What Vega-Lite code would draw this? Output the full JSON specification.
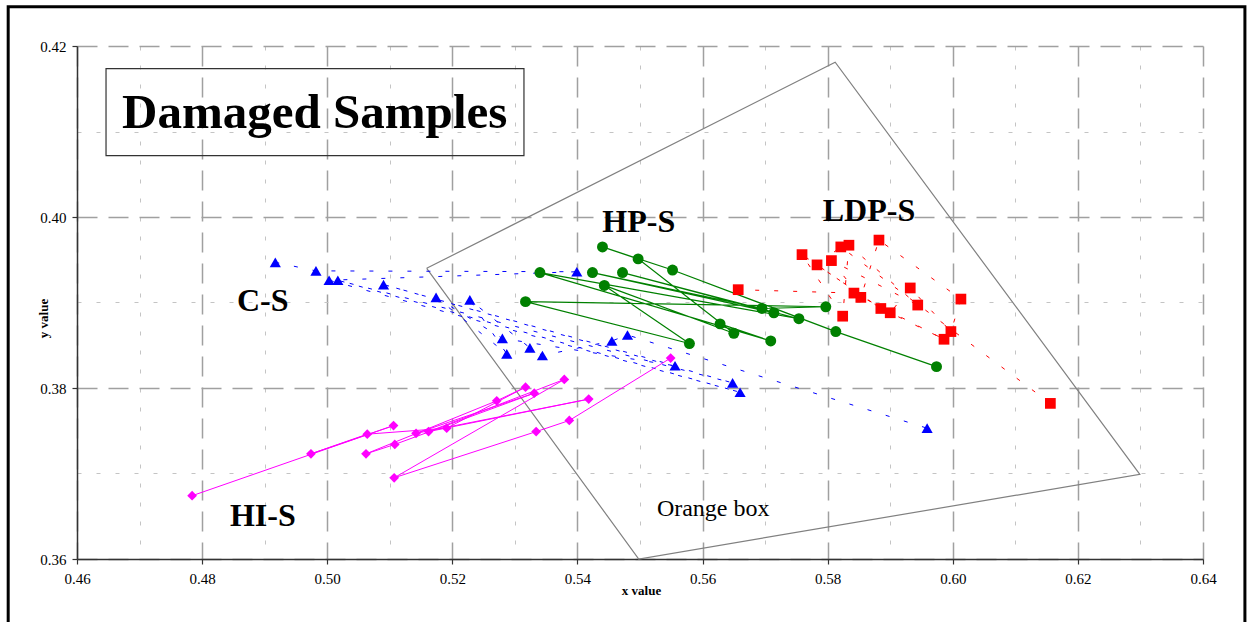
{
  "$schema": "https://vega.github.io/schema/vega-lite/v6.json",
  "width": 1126,
  "height": 513,
  "autosize": {"type": "none"},
  "padding": {"left": 77, "top": 46, "right": 47, "bottom": 63},
  "background": "white",
  "config": {"view": {"stroke": null}, "font": "Liberation Serif"},
  "datasets": {
    "pts": [
      {"s": "C-S", "o": 1, "x": 0.4917, "y": 0.3947},
      {"s": "C-S", "o": 2, "x": 0.4982, "y": 0.3937},
      {"s": "C-S", "o": 3, "x": 0.5399, "y": 0.3936},
      {"s": "C-S", "o": 4, "x": 0.5003, "y": 0.3926},
      {"s": "C-S", "o": 5, "x": 0.5660, "y": 0.3795},
      {"s": "C-S", "o": 6, "x": 0.5017, "y": 0.3926},
      {"s": "C-S", "o": 7, "x": 0.5648, "y": 0.3806},
      {"s": "C-S", "o": 8, "x": 0.5090, "y": 0.3921},
      {"s": "C-S", "o": 9, "x": 0.5556, "y": 0.3826},
      {"s": "C-S", "o": 10, "x": 0.5280, "y": 0.3858},
      {"s": "C-S", "o": 11, "x": 0.5174, "y": 0.3906},
      {"s": "C-S", "o": 12, "x": 0.5287, "y": 0.3840},
      {"s": "C-S", "o": 13, "x": 0.5228, "y": 0.3903},
      {"s": "C-S", "o": 14, "x": 0.5324, "y": 0.3847},
      {"s": "C-S", "o": 15, "x": 0.5344, "y": 0.3838},
      {"s": "C-S", "o": 16, "x": 0.5455, "y": 0.3855},
      {"s": "C-S", "o": 17, "x": 0.5480, "y": 0.3862},
      {"s": "C-S", "o": 18, "x": 0.5959, "y": 0.3753},

      {"s": "HP-S", "o": 1, "x": 0.5974, "y": 0.3825},
      {"s": "HP-S", "o": 2, "x": 0.5813, "y": 0.3866},
      {"s": "HP-S", "o": 3, "x": 0.5552, "y": 0.3938},
      {"s": "HP-S", "o": 4, "x": 0.5440, "y": 0.3965},
      {"s": "HP-S", "o": 5, "x": 0.5497, "y": 0.3951},
      {"s": "HP-S", "o": 6, "x": 0.5650, "y": 0.3864},
      {"s": "HP-S", "o": 7, "x": 0.5443, "y": 0.3920},
      {"s": "HP-S", "o": 8, "x": 0.5579, "y": 0.3852},
      {"s": "HP-S", "o": 9, "x": 0.5317, "y": 0.3901},
      {"s": "HP-S", "o": 10, "x": 0.5797, "y": 0.3895},
      {"s": "HP-S", "o": 11, "x": 0.5695, "y": 0.3893},
      {"s": "HP-S", "o": 12, "x": 0.5424, "y": 0.3935},
      {"s": "HP-S", "o": 13, "x": 0.5714, "y": 0.3888},
      {"s": "HP-S", "o": 14, "x": 0.5472, "y": 0.3935},
      {"s": "HP-S", "o": 15, "x": 0.5754, "y": 0.3881},
      {"s": "HP-S", "o": 16, "x": 0.5340, "y": 0.3935},
      {"s": "HP-S", "o": 17, "x": 0.5709, "y": 0.3855},
      {"s": "HP-S", "o": 18, "x": 0.5628, "y": 0.3875},

      {"s": "LDP-S", "o": 1, "x": 0.6156, "y": 0.3782},
      {"s": "LDP-S", "o": 2, "x": 0.5821, "y": 0.3965},
      {"s": "LDP-S", "o": 3, "x": 0.5783, "y": 0.3944},
      {"s": "LDP-S", "o": 4, "x": 0.5885, "y": 0.3893},
      {"s": "LDP-S", "o": 5, "x": 0.5759, "y": 0.3956},
      {"s": "LDP-S", "o": 6, "x": 0.5824, "y": 0.3884},
      {"s": "LDP-S", "o": 7, "x": 0.5834, "y": 0.3967},
      {"s": "LDP-S", "o": 8, "x": 0.5944, "y": 0.3897},
      {"s": "LDP-S", "o": 9, "x": 0.5806, "y": 0.3949},
      {"s": "LDP-S", "o": 10, "x": 0.5853, "y": 0.3906},
      {"s": "LDP-S", "o": 11, "x": 0.5882, "y": 0.3973},
      {"s": "LDP-S", "o": 12, "x": 0.6013, "y": 0.3904},
      {"s": "LDP-S", "o": 13, "x": 0.5997, "y": 0.3866},
      {"s": "LDP-S", "o": 14, "x": 0.5932, "y": 0.3917},
      {"s": "LDP-S", "o": 15, "x": 0.5900, "y": 0.3888},
      {"s": "LDP-S", "o": 16, "x": 0.5986, "y": 0.3857},
      {"s": "LDP-S", "o": 17, "x": 0.5842, "y": 0.3911},
      {"s": "LDP-S", "o": 18, "x": 0.5657, "y": 0.3915},

      {"s": "HI-S", "o": 1, "x": 0.5549, "y": 0.3835},
      {"s": "HI-S", "o": 2, "x": 0.5387, "y": 0.3762},
      {"s": "HI-S", "o": 3, "x": 0.5334, "y": 0.3749},
      {"s": "HI-S", "o": 4, "x": 0.5107, "y": 0.3695},
      {"s": "HI-S", "o": 5, "x": 0.5379, "y": 0.3810},
      {"s": "HI-S", "o": 6, "x": 0.5162, "y": 0.3749},
      {"s": "HI-S", "o": 7, "x": 0.5418, "y": 0.3787},
      {"s": "HI-S", "o": 8, "x": 0.5142, "y": 0.3747},
      {"s": "HI-S", "o": 9, "x": 0.5331, "y": 0.3794},
      {"s": "HI-S", "o": 10, "x": 0.5108, "y": 0.3734},
      {"s": "HI-S", "o": 11, "x": 0.5062, "y": 0.3723},
      {"s": "HI-S", "o": 12, "x": 0.5271, "y": 0.3785},
      {"s": "HI-S", "o": 13, "x": 0.5317, "y": 0.3801},
      {"s": "HI-S", "o": 14, "x": 0.5191, "y": 0.3753},
      {"s": "HI-S", "o": 15, "x": 0.5064, "y": 0.3746},
      {"s": "HI-S", "o": 16, "x": 0.4974, "y": 0.3723},
      {"s": "HI-S", "o": 17, "x": 0.5106, "y": 0.3756},
      {"s": "HI-S", "o": 18, "x": 0.4784, "y": 0.3674}
    ],
    "box": [
      {"o": 1, "x": 0.5159, "y": 0.3940},
      {"o": 2, "x": 0.5812, "y": 0.4181},
      {"o": 3, "x": 0.6299, "y": 0.3699},
      {"o": 4, "x": 0.5498, "y": 0.3600},
      {"o": 5, "x": 0.5159, "y": 0.3940}
    ],
    "labels": [
      {"t": "C-S", "x": 0.4897, "y": 0.3902},
      {"t": "HP-S", "x": 0.5498, "y": 0.3994},
      {"t": "LDP-S", "x": 0.5866, "y": 0.4007},
      {"t": "HI-S", "x": 0.4897, "y": 0.3650}
    ],
    "note": [
      {"t": "Orange box", "x": 0.5617, "y": 0.3658}
    ],
    "ttl": [
      {"t": "Damaged Samples", "x": 0.4980, "y": 0.4122}
    ]
  },
  "layer": [
    {
      "data": {"name": "box"},
      "mark": {"type": "line", "color": "#808080", "strokeWidth": 1.2},
      "encoding": {
        "x": {
          "field": "x", "type": "quantitative",
          "scale": {"domain": [0.46, 0.64], "nice": false, "zero": false},
          "axis": {
            "title": "x value",
            "values": [0.46, 0.47, 0.48, 0.49, 0.50, 0.51, 0.52, 0.53, 0.54, 0.55, 0.56, 0.57, 0.58, 0.59, 0.60, 0.61, 0.62, 0.63, 0.64],
            "grid": true,
            "gridColor": {"condition": {"test": "round(datum.value*100)%2==1", "value": "#c4c4c4"}, "value": "#a0a0a0"},
            "gridDash": {"condition": {"test": "round(datum.value*100)%2==1", "value": [4, 15]}, "value": [20, 11]},
            "gridWidth": {"condition": {"test": "round(datum.value*100)%2==1", "value": 1}, "value": 1.5},
            "tickOpacity": {"condition": {"test": "round(datum.value*100)%2==1", "value": 0}, "value": 1},
            "labelExpr": "round(datum.value*100)%2==0 ? format(datum.value,'.2f') : ''",
            "tickSize": 5, "tickColor": "#333333", "tickWidth": 1.2,
            "domainColor": "#333333", "domainWidth": 1.5,
            "labelFont": "Liberation Serif", "labelFontSize": 15, "labelColor": "black",
            "labelPadding": 7, "labelOverlap": false, "labelFlush": false,
            "titleFont": "Liberation Serif", "titleFontWeight": "bold", "titleFontSize": 13, "titleColor": "black",
            "titleX": 564, "titleY": 31, "titleBaseline": "middle", "titleAlign": "center"
          }
        },
        "y": {
          "field": "y", "type": "quantitative",
          "scale": {"domain": [0.36, 0.42], "nice": false, "zero": false},
          "axis": {
            "title": "y value",
            "values": [0.36, 0.37, 0.38, 0.39, 0.40, 0.41, 0.42],
            "grid": true,
            "gridColor": {"condition": {"test": "round(datum.value*100)%2==1", "value": "#c4c4c4"}, "value": "#a0a0a0"},
            "gridDash": {"condition": {"test": "round(datum.value*100)%2==1", "value": [4, 15]}, "value": [20, 11]},
            "gridWidth": {"condition": {"test": "round(datum.value*100)%2==1", "value": 1}, "value": 1.5},
            "tickOpacity": {"condition": {"test": "round(datum.value*100)%2==1", "value": 0}, "value": 1},
            "labelExpr": "round(datum.value*100)%2==0 ? format(datum.value,'.2f') : ''",
            "tickSize": 5, "tickColor": "#333333", "tickWidth": 1.2,
            "domainColor": "#333333", "domainWidth": 1.5,
            "labelFont": "Liberation Serif", "labelFontSize": 15, "labelColor": "black",
            "labelPadding": 6, "labelOverlap": false, "labelFlush": false,
            "titleFont": "Liberation Serif", "titleFontWeight": "bold", "titleFontSize": 13, "titleColor": "black",
            "titleAngle": -90, "titleX": -34, "titleY": 272, "titleBaseline": "middle", "titleAlign": "center"
          }
        },
        "order": {"field": "o", "type": "quantitative"}
      }
    },
    {
      "data": {"values": [{}]},
      "mark": {"type": "rect", "filled": false, "stroke": "black", "strokeWidth": 3, "clip": false},
      "encoding": {
        "x": {"datum": 0.4490, "type": "quantitative", "scale": {"domain": [0.46, 0.64], "nice": false, "zero": false}},
        "x2": {"datum": 0.6467},
        "y": {"datum": 0.4246, "type": "quantitative", "scale": {"domain": [0.36, 0.42], "nice": false, "zero": false}},
        "y2": {"datum": 0.3500}
      }
    },
    {
      "data": {"values": [{}]},
      "mark": {"type": "rect", "filled": false, "stroke": "#333333", "strokeWidth": 1.2},
      "encoding": {
        "x": {"datum": 0.46464, "type": "quantitative", "scale": {"domain": [0.46, 0.64], "nice": false, "zero": false}},
        "x2": {"datum": 0.53145},
        "y": {"datum": 0.41736, "type": "quantitative", "scale": {"domain": [0.36, 0.42], "nice": false, "zero": false}},
        "y2": {"datum": 0.40717}
      }
    },
    {
      "data": {"name": "ttl"},
      "mark": {"type": "text", "font": "Liberation Serif", "fontWeight": "bold", "fontSize": 49, "color": "black", "align": "center", "baseline": "middle"},
      "encoding": {
        "x": {"field": "x", "type": "quantitative", "scale": {"domain": [0.46, 0.64], "nice": false, "zero": false}},
        "y": {"field": "y", "type": "quantitative", "scale": {"domain": [0.36, 0.42], "nice": false, "zero": false}},
        "text": {"field": "t"}
      }
    },
    {
      "data": {"name": "pts"},
      "transform": [{"filter": "datum.s == 'C-S'"}],
      "mark": {"type": "line", "color": "#0000FF", "strokeWidth": 1, "strokeDash": [4, 15]},
      "encoding": {
        "x": {"field": "x", "type": "quantitative", "scale": {"domain": [0.46, 0.64], "nice": false, "zero": false}},
        "y": {"field": "y", "type": "quantitative", "scale": {"domain": [0.36, 0.42], "nice": false, "zero": false}},
        "order": {"field": "o", "type": "quantitative"}
      }
    },
    {
      "data": {"name": "pts"},
      "transform": [{"filter": "datum.s == 'LDP-S'"}],
      "mark": {"type": "line", "color": "#FF0000", "strokeWidth": 1, "strokeDash": [4, 15]},
      "encoding": {
        "x": {"field": "x", "type": "quantitative", "scale": {"domain": [0.46, 0.64], "nice": false, "zero": false}},
        "y": {"field": "y", "type": "quantitative", "scale": {"domain": [0.36, 0.42], "nice": false, "zero": false}},
        "order": {"field": "o", "type": "quantitative"}
      }
    },
    {
      "data": {"name": "pts"},
      "transform": [{"filter": "datum.s == 'HP-S'"}],
      "mark": {"type": "line", "color": "#008000", "strokeWidth": 1.2},
      "encoding": {
        "x": {"field": "x", "type": "quantitative", "scale": {"domain": [0.46, 0.64], "nice": false, "zero": false}},
        "y": {"field": "y", "type": "quantitative", "scale": {"domain": [0.36, 0.42], "nice": false, "zero": false}},
        "order": {"field": "o", "type": "quantitative"}
      }
    },
    {
      "data": {"name": "pts"},
      "transform": [{"filter": "datum.s == 'HI-S'"}],
      "mark": {"type": "line", "color": "#FF00FF", "strokeWidth": 1},
      "encoding": {
        "x": {"field": "x", "type": "quantitative", "scale": {"domain": [0.46, 0.64], "nice": false, "zero": false}},
        "y": {"field": "y", "type": "quantitative", "scale": {"domain": [0.36, 0.42], "nice": false, "zero": false}},
        "order": {"field": "o", "type": "quantitative"}
      }
    },
    {
      "data": {"name": "pts"},
      "transform": [{"filter": "datum.s == 'C-S'"}],
      "mark": {"type": "point", "shape": "triangle-up", "filled": true, "color": "#0000FF", "size": 125, "opacity": 1},
      "encoding": {
        "x": {"field": "x", "type": "quantitative", "scale": {"domain": [0.46, 0.64], "nice": false, "zero": false}},
        "y": {"field": "y", "type": "quantitative", "scale": {"domain": [0.36, 0.42], "nice": false, "zero": false}}
      }
    },
    {
      "data": {"name": "pts"},
      "transform": [{"filter": "datum.s == 'HP-S'"}],
      "mark": {"type": "point", "shape": "circle", "filled": true, "color": "#008000", "size": 120, "opacity": 1},
      "encoding": {
        "x": {"field": "x", "type": "quantitative", "scale": {"domain": [0.46, 0.64], "nice": false, "zero": false}},
        "y": {"field": "y", "type": "quantitative", "scale": {"domain": [0.36, 0.42], "nice": false, "zero": false}}
      }
    },
    {
      "data": {"name": "pts"},
      "transform": [{"filter": "datum.s == 'LDP-S'"}],
      "mark": {"type": "point", "shape": "square", "filled": true, "color": "#FF0000", "size": 115, "opacity": 1},
      "encoding": {
        "x": {"field": "x", "type": "quantitative", "scale": {"domain": [0.46, 0.64], "nice": false, "zero": false}},
        "y": {"field": "y", "type": "quantitative", "scale": {"domain": [0.36, 0.42], "nice": false, "zero": false}}
      }
    },
    {
      "data": {"name": "pts"},
      "transform": [{"filter": "datum.s == 'HI-S'"}],
      "mark": {"type": "point", "shape": "diamond", "filled": true, "color": "#FF00FF", "size": 95, "opacity": 1},
      "encoding": {
        "x": {"field": "x", "type": "quantitative", "scale": {"domain": [0.46, 0.64], "nice": false, "zero": false}},
        "y": {"field": "y", "type": "quantitative", "scale": {"domain": [0.36, 0.42], "nice": false, "zero": false}}
      }
    },
    {
      "data": {"name": "labels"},
      "mark": {"type": "text", "font": "Liberation Serif", "fontWeight": "bold", "fontSize": 32, "color": "black", "align": "center", "baseline": "middle"},
      "encoding": {
        "x": {"field": "x", "type": "quantitative", "scale": {"domain": [0.46, 0.64], "nice": false, "zero": false}},
        "y": {"field": "y", "type": "quantitative", "scale": {"domain": [0.36, 0.42], "nice": false, "zero": false}},
        "text": {"field": "t"}
      }
    },
    {
      "data": {"name": "note"},
      "mark": {"type": "text", "font": "Liberation Serif", "fontSize": 24, "color": "black", "align": "center", "baseline": "middle"},
      "encoding": {
        "x": {"field": "x", "type": "quantitative", "scale": {"domain": [0.46, 0.64], "nice": false, "zero": false}},
        "y": {"field": "y", "type": "quantitative", "scale": {"domain": [0.36, 0.42], "nice": false, "zero": false}},
        "text": {"field": "t"}
      }
    }
  ]
}
